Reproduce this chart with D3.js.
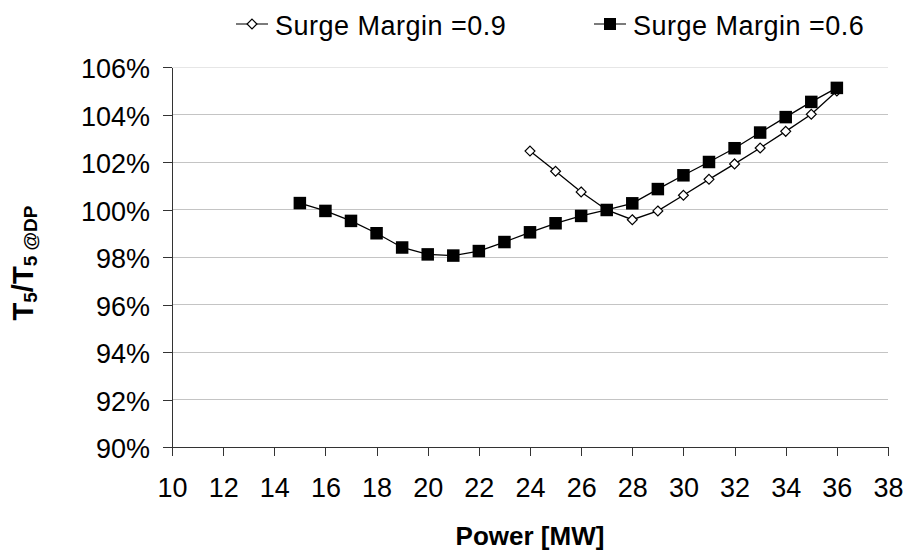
<!DOCTYPE html>
<html>
<head>
<meta charset="utf-8">
<script src="https://cdn.jsdelivr.net/npm/d3@7"></script>
<style>
  html, body { margin: 0; padding: 0; background: #fff; }
  svg { display: block; font-family: "Liberation Sans", Arial, Helvetica, sans-serif; }
</style>
</head>
<body>
<svg id="chart" width="904" height="550"></svg>
<script>
// Exhaust temperature ratio T5/T5@DP versus power output, two surge margins
const powerSM09 = [24, 25, 26, 27, 28, 29, 30, 31, 32, 33, 34, 35, 36];
const ratioSM09 = [102.46, 101.61, 100.74, 99.98, 99.57, 99.94, 100.60, 101.27, 101.92, 102.59, 103.29, 104.01, 104.99];

const powerSM06 = [15, 16, 17, 18, 19, 20, 21, 22, 23, 24, 25, 26, 27, 28, 29, 30, 31, 32, 33, 34, 35, 36];
const ratioSM06 = [100.27, 99.94, 99.52, 99.00, 98.40, 98.11, 98.06, 98.25, 98.63, 99.04, 99.42, 99.73, 99.98, 100.26, 100.86, 101.44, 102.00, 102.58, 103.24, 103.89, 104.53, 105.12];

const xTicks = [10, 12, 14, 16, 18, 20, 22, 24, 26, 28, 30, 32, 34, 36, 38];
const yTicks = [90, 92, 94, 96, 98, 100, 102, 104, 106];
const seriesNames = ["Surge Margin =0.9", "Surge Margin =0.6"];

const W = 904, H = 550;
const margin = { top: 67, right: 16, bottom: 103, left: 172 };
const svg = d3.select("#chart");

const x = d3.scaleLinear().domain([10, 38]).range([margin.left, W - margin.right]);
const y = d3.scaleLinear().domain([90, 106]).range([H - margin.bottom, margin.top]);

// horizontal gridlines
svg.append("g")
  .selectAll("line")
  .data(yTicks.filter(d => d > 90))
  .join("line")
  .attr("x1", x(10)).attr("x2", x(38))
  .attr("y1", d => y(d)).attr("y2", d => y(d))
  .attr("stroke", d => d === 106 ? "#e6e6e6" : "#c4c4c4")
  .attr("stroke-width", 1)
  .attr("shape-rendering", "crispEdges");

const tickFont = 27;

// x axis
const gx = svg.append("g")
  .attr("transform", `translate(0,${y(90)})`)
  .call(d3.axisBottom(x).tickValues(xTicks).tickSize(9).tickSizeOuter(0).tickFormat(d3.format("d")));
gx.select(".domain").attr("stroke", "#333").attr("shape-rendering", "crispEdges");
gx.selectAll(".tick line").attr("stroke", "#333").attr("shape-rendering", "crispEdges");
gx.selectAll(".tick text")
  .attr("y", 50).attr("dy", 0)
  .attr("fill", "#000")
  .style("font-size", tickFont + "px")
  .style("font-family", "'Liberation Sans', Arial, sans-serif");

// y axis
const gy = svg.append("g")
  .attr("transform", `translate(${x(10)},0)`)
  .call(d3.axisLeft(y).tickValues(yTicks).tickSize(9).tickSizeOuter(0).tickPadding(13).tickFormat(d => d + "%"));
gy.select(".domain").attr("stroke", "#333").attr("shape-rendering", "crispEdges");
gy.selectAll(".tick line").attr("stroke", "#333").attr("shape-rendering", "crispEdges");
gy.selectAll(".tick text")
  .attr("dy", "0.4em")
  .attr("fill", "#000")
  .style("font-size", tickFont + "px")
  .style("font-family", "'Liberation Sans', Arial, sans-serif");

// series
const line = d3.line().x(d => x(d[0])).y(d => y(d[1]));
const ptsSM09 = powerSM09.map((p, i) => [p, ratioSM09[i]]);
const ptsSM06 = powerSM06.map((p, i) => [p, ratioSM06[i]]);

const diamond = d3.symbol().type(d3.symbolDiamond2).size(62);
const sq = 12.5;

svg.append("path")
  .datum(ptsSM09)
  .attr("d", line)
  .attr("fill", "none")
  .attr("stroke", "#000")
  .attr("stroke-width", 1.3);

svg.append("g")
  .selectAll("path")
  .data(ptsSM09)
  .join("path")
  .attr("transform", d => `translate(${x(d[0])},${y(d[1])})`)
  .attr("d", diamond)
  .attr("fill", "#fff")
  .attr("stroke", "#000")
  .attr("stroke-width", 1.2);

svg.append("path")
  .datum(ptsSM06)
  .attr("d", line)
  .attr("fill", "none")
  .attr("stroke", "#000")
  .attr("stroke-width", 1.3);

svg.append("g")
  .selectAll("rect")
  .data(ptsSM06)
  .join("rect")
  .attr("x", d => x(d[0]) - sq / 2)
  .attr("y", d => y(d[1]) - sq / 2)
  .attr("width", sq).attr("height", sq)
  .attr("fill", "#000");

// legend
const legend = svg.append("g").style("font-size", "27px").style("letter-spacing", "0.5px");
const legendItems = [
  { name: seriesNames[0], cx: 252, kind: "diamond" },
  { name: seriesNames[1], cx: 610, kind: "square" }
];
const legendY = 24;
legendItems.forEach(item => {
  const g = legend.append("g");
  g.append("line")
    .attr("x1", item.cx - 16).attr("x2", item.cx + 16)
    .attr("y1", legendY).attr("y2", legendY)
    .attr("stroke", "#333").attr("stroke-width", 1.3);
  if (item.kind === "diamond") {
    g.append("path")
      .attr("transform", `translate(${item.cx},${legendY})`)
      .attr("d", diamond)
      .attr("fill", "#fff").attr("stroke", "#000").attr("stroke-width", 1.2);
  } else {
    g.append("rect")
      .attr("x", item.cx - 6).attr("y", legendY - 6)
      .attr("width", 12).attr("height", 12)
      .attr("fill", "#000");
  }
  g.append("text")
    .attr("x", item.cx + 23).attr("y", 35)
    .attr("fill", "#000")
    .text(item.name);
});

// axis titles
svg.append("text")
  .attr("x", (x(10) + x(38)) / 2)
  .attr("y", 545)
  .attr("text-anchor", "middle")
  .style("font-size", "26px")
  .style("font-weight", "bold")
  .text("Power [MW]");

const yt = svg.append("text")
  .attr("transform", `translate(33,${(y(90) + y(106)) / 2 + 6}) rotate(-90)`)
  .attr("text-anchor", "middle")
  .style("font-weight", "bold");
yt.append("tspan").style("font-size", "29px").text("T");
yt.append("tspan").style("font-size", "19px").attr("dy", 4).text("5");
yt.append("tspan").style("font-size", "29px").attr("dy", -4).text("/T");
yt.append("tspan").style("font-size", "19px").attr("dy", 4).text("5 @DP");
</script>
</body>
</html>
